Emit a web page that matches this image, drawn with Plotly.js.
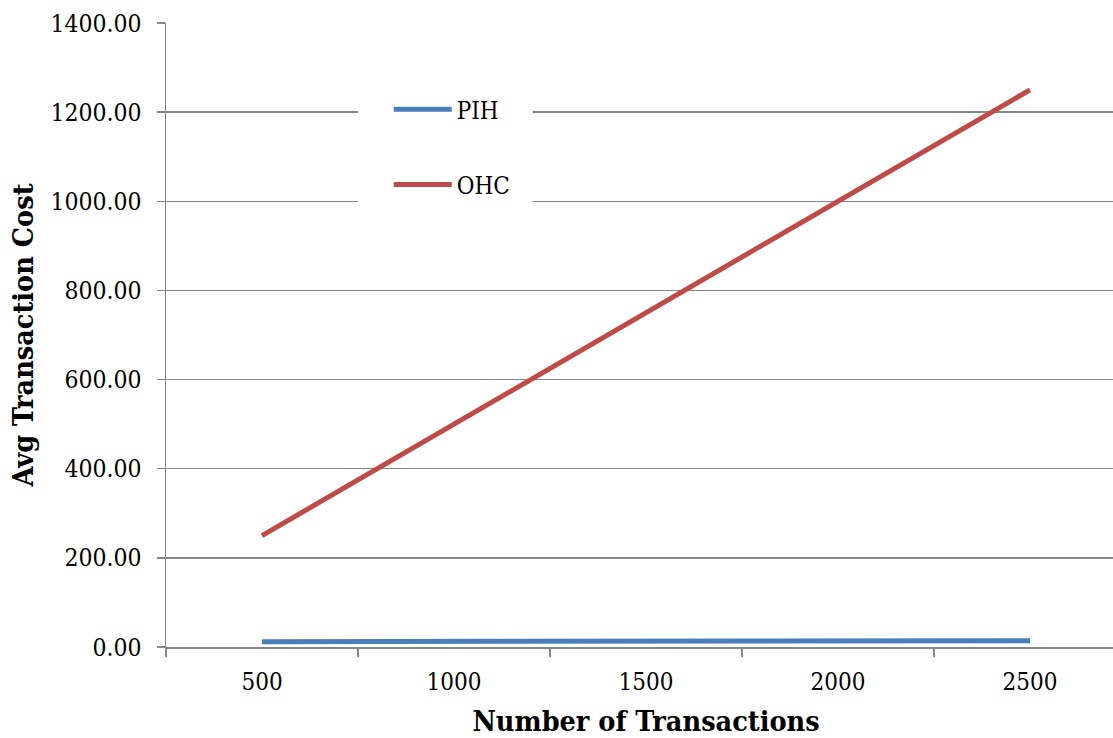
<!DOCTYPE html>
<html>
<head>
<meta charset="utf-8">
<script src="https://cdn.plot.ly/plotly-3.0.1.min.js"></script>
<style>
html, body { margin: 0; padding: 0; overflow: hidden; background: #ffffff; width: 1113px; height: 738px; }
#chart { width: 1126px; height: 738px; }
</style>
</head>
<body>
<div id="chart"></div>
<script>
const categories = ["500", "1000", "1500", "2000", "2500"];
const pihValues = [12, 12.5, 13, 13.5, 14];
const ohcValues = [250, 500, 750, 1000, 1250];
const yTickValues = [0, 200, 400, 600, 800, 1000, 1200, 1400];

const FONT = '"DejaVu Serif Condensed", "DejaVu Serif", serif';

const traces = [
  {
    x: categories, y: pihValues, name: "PIH", type: "scatter", mode: "lines",
    line: { color: "#4A7EBB", width: 5 }, legendgroup: "a"
  },
  {
    x: categories, y: ohcValues, name: "OHC", type: "scatter", mode: "lines",
    line: { color: "#BE4B48", width: 5 }, legendgroup: "b"
  }
];

const layout = {
  width: 1126, height: 738,
  margin: { l: 166, r: 0, t: 23, b: 91 },
  paper_bgcolor: "#ffffff", plot_bgcolor: "#ffffff",
  font: { family: FONT, size: 24, color: "#000000" },
  showlegend: true,
  legend: {
    x: 0.232, xanchor: "left", y: 0.897, yanchor: "top",
    bgcolor: "#ffffff", borderwidth: 0,
    font: { family: FONT, size: 24, color: "#000000" },
    itemwidth: 58, tracegroupgap: 41, traceorder: "grouped"
  },
  shapes: [
    {
      type: "rect", layer: "above", xref: "paper", yref: "paper",
      x0: 0.2, x1: 0.382, y0: 0.70, y1: 0.885,
      fillcolor: "#ffffff", line: { width: 0 }
    }
  ],
  xaxis: {
    type: "category", range: [-0.5, 4.5],
    tickson: "boundaries", ticks: "outside", ticklen: 8, tickwidth: 1.5, tickcolor: "#868686",
    showline: true, linecolor: "#868686", linewidth: 1.5,
    showgrid: false, zeroline: false,
    ticklabelstandoff: 13,
    tickfont: { family: FONT, size: 24, color: "#000000" },
    title: { text: "Number of Transactions", font: { family: FONT, size: 28.5, color: "#000000", weight: "bold" }, standoff: 20 }
  },
  yaxis: {
    range: [0, 1400], tickvals: yTickValues, tickformat: ".2f",
    ticks: "outside", ticklen: 8, tickwidth: 1.5, tickcolor: "#868686",
    showline: true, linecolor: "#868686", linewidth: 1.5,
    showgrid: true, gridcolor: "#868686", gridwidth: 1.5,
    zeroline: false,
    ticklabelstandoff: 10,
    tickfont: { family: FONT, size: 24.5, color: "#000000" },
    title: { text: "Avg Transaction Cost", font: { family: FONT, size: 28.5, color: "#000000", weight: "bold" }, standoff: 8 }
  }
};

Plotly.newPlot("chart", traces, layout, { displayModeBar: false, staticPlot: true });
</script>
</body>
</html>
